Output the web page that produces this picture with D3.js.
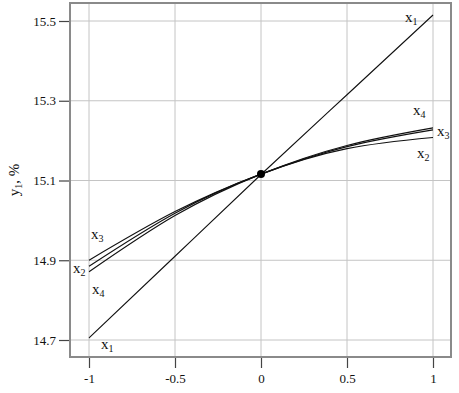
<!DOCTYPE html>
<html>
<head>
<meta charset="utf-8">
<script src="https://cdn.jsdelivr.net/npm/d3@7"></script>
<style>
body { margin: 0; background: #fff; }
svg { display: block; }
svg text { font-family: "Times New Roman", "Liberation Serif", Times, serif; }
</style>
</head>
<body>
<svg id="chart" width="459" height="393"></svg>
<script>
'use strict';

// values
let xTicks = [-1, -0.5, 0, 0.5, 1];
let yTicks = [14.7, 14.9, 15.1, 15.3, 15.5];
let xs = [-1, -0.5, 0, 0.5, 1];
let x1Vals = [14.705, 14.91, 15.115, 15.315, 15.515];
let x2Vals = [14.885, 15.018, 15.116, 15.180, 15.208];
let x3Vals = [14.900, 15.022, 15.116, 15.185, 15.227];
let x4Vals = [14.871, 15.012, 15.116, 15.188, 15.232];
let center = [0, 15.116];

let svg = d3.select("#chart");

// frame
let fx0 = 70, fx1 = 451, fy0 = 3, fy1 = 357;

let x = d3.scaleLinear().domain([-1, 1]).range([89, 433]);
let y = d3.scaleLinear().domain([14.7, 15.5]).range([340, 21]);

// grid
svg.append("g").selectAll("line").data(xTicks).enter().append("line")
	.attr("x1", d => x(d)).attr("x2", d => x(d))
	.attr("y1", fy0).attr("y2", fy1)
	.attr("stroke", "#c4c4c4").attr("stroke-width", 1);
svg.append("g").selectAll("line").data(yTicks).enter().append("line")
	.attr("x1", fx0).attr("x2", fx1)
	.attr("y1", d => y(d)).attr("y2", d => y(d))
	.attr("stroke", "#c4c4c4").attr("stroke-width", 1);

svg.append("rect")
	.attr("x", fx0).attr("y", fy0)
	.attr("width", fx1 - fx0).attr("height", fy1 - fy0)
	.attr("fill", "none").attr("stroke", "#8a8a8a").attr("stroke-width", 2);

// axes
let xAxis = d3.axisBottom(x).tickValues(xTicks).tickSize(10).tickPadding(6)
	.tickFormat(d => String(d));
let gx = svg.append("g").attr("transform", "translate(0," + (fy1 + 1) + ")").call(xAxis);
let yAxis = d3.axisLeft(y).tickValues(yTicks).tickSize(10).tickPadding(3)
	.tickFormat(d3.format(".1f"));
let gy = svg.append("g").attr("transform", "translate(" + (fx0 - 1) + ",0)").call(yAxis);

[gx, gy].forEach(function(g){
	g.attr("font-family", null);
	g.select(".domain").remove();
	g.selectAll(".tick line").attr("stroke", "#444").attr("stroke-width", 1.2);
	g.selectAll("text").attr("fill", "#111").style("font-size", "13px");
});

// y label
svg.append("text")
	.attr("transform", "translate(19,180) rotate(-90)")
	.attr("text-anchor", "middle")
	.style("font-size", "15px")
	.attr("fill", "#111")
	.html('y<tspan dy="3" font-size="10">1</tspan><tspan dy="-3">, %</tspan>');

// lines
let line = d3.line()
	.x((d, i) => x(xs[i]))
	.y(d => y(d))
	.curve(d3.curveNatural);

[x1Vals, x2Vals, x3Vals, x4Vals].forEach(function(vals){
	svg.append("path")
		.attr("d", line(vals))
		.attr("fill", "none")
		.attr("stroke", "#111")
		.attr("stroke-width", 1.1);
});

svg.append("circle")
	.attr("cx", x(center[0])).attr("cy", y(center[1]))
	.attr("r", 4).attr("fill", "#000");

// line labels
let labels = [
	{n: "1", px: 405, py: 22},
	{n: "1", px: 101, py: 349},
	{n: "3", px: 91, py: 239},
	{n: "2", px: 73, py: 273},
	{n: "4", px: 92, py: 294},
	{n: "4", px: 413, py: 115},
	{n: "3", px: 437, py: 136},
	{n: "2", px: 417, py: 158}
];
svg.append("g").selectAll("text").data(labels).enter().append("text")
	.attr("x", d => d.px).attr("y", d => d.py)
	.attr("fill", "#111")
	.style("font-size", "15px")
	.html(d => 'x<tspan dy="3" font-size="10">' + d.n + '</tspan>');
</script>
</body>
</html>
